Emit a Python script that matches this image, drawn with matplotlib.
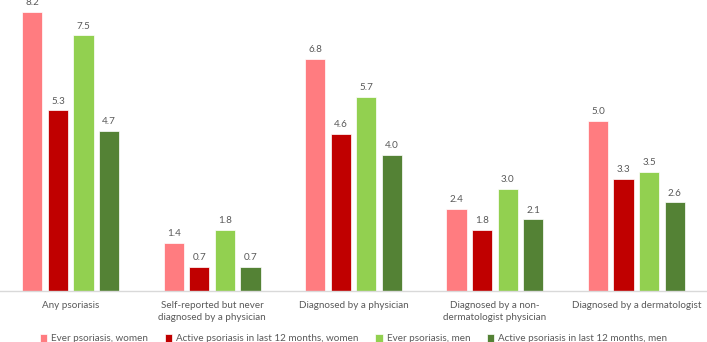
import matplotlib
matplotlib.use("Agg")
import matplotlib.pyplot as plt
import numpy as np

categories = ["Any psoriasis", "Self-reported but never\ndiagnosed by a physician",
              "Diagnosed by a physician", "Diagnosed by a non-\ndermatologist physician",
              "Diagnosed by a dermatologist"]
series_names = ["Ever psoriasis, women", "Active psoriasis in last 12 months, women",
                "Ever psoriasis, men", "Active psoriasis in last 12 months, men"]
ever_women = [8.2, 1.4, 6.8, 2.4, 5.0]
active_women = [5.3, 0.7, 4.6, 1.8, 3.3]
ever_men = [7.5, 1.8, 5.7, 3.0, 3.5]
active_men = [4.7, 0.7, 4.0, 2.1, 2.6]
colors = ["#FF7C80", "#C00000", "#92D050", "#548235"]

plt.rcParams['font.family'] = ['Lato', 'DejaVu Sans']
fs = 7.1
fig = plt.figure(figsize=(7.07, 3.42), dpi=100)
ax = fig.add_axes([0.0, 0.149, 1.0, 0.842])
x = np.arange(len(categories))
width = 0.142
pitch = 0.181
data = [ever_women, active_women, ever_men, active_men]
for i, (vals, c, name) in enumerate(zip(data, colors, series_names)):
    pos = x + (i - 1.5) * pitch
    bars = ax.bar(pos, vals, width=width, color=c, label=name, edgecolor='white', linewidth=0.5)
    for b, v in zip(bars, vals):
        ax.annotate(f"{v:.1f}", (b.get_x() + b.get_width() / 2, v), xytext=(0, 3.5),
                    textcoords='offset points', ha='center', va='bottom',
                    fontsize=fs, color='#595959')
ax.set_xlim(-0.5, 4.5)
ax.set_ylim(0, 8.45)
ax.set_xticks(x)
ax.set_xticklabels(categories, fontsize=fs, color='#595959', linespacing=1.5)
ax.tick_params(axis='x', length=0, pad=7)
ax.set_yticks([])
for s in ['top', 'right', 'left']:
    ax.spines[s].set_visible(False)
ax.spines['bottom'].set_color('#D9D9D9')
ax.spines['bottom'].set_linewidth(1)
leg = fig.legend(loc='lower center', bbox_to_anchor=(0.5, -0.03), ncol=4, frameon=False,
                 fontsize=fs, handlelength=0.75, handleheight=0.75, handletextpad=0.4,
                 columnspacing=1.7)
for t in leg.get_texts():
    t.set_color('#595959')
fig.savefig("out.png", dpi=100)
